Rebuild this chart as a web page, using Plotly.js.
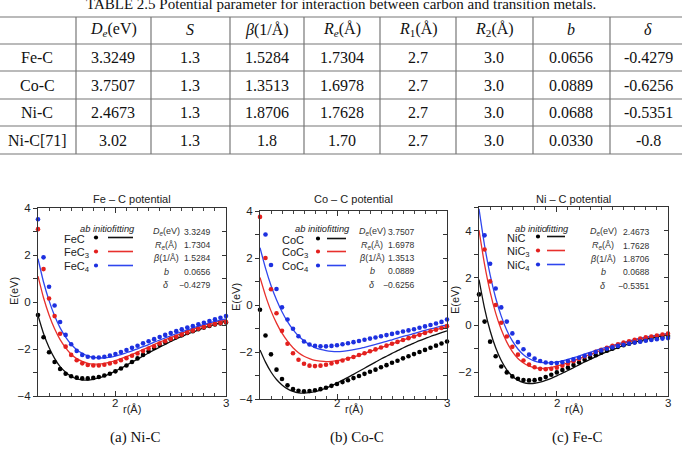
<!DOCTYPE html>
<html><head><meta charset="utf-8">
<script src="https://cdn.plot.ly/plotly-3.0.1.min.js"></script>
<style>html,body{margin:0;padding:0;background:#fff}#chart{width:682px;height:455px}</style>
</head><body><div id="chart"></div>
<script>
// ---------- table data ----------
const tableTitle = "TABLE 2.5 Potential parameter for interaction between carbon and transition metals.";
const tableHeader = ["", "<i>D</i><sub><i>e</i></sub>(eV)", "<i>S</i>", "<i>β</i>(1/Å)", "<i>R</i><sub><i>e</i></sub>(Å)", "<i>R</i><sub>1</sub>(Å)", "<i>R</i><sub>2</sub>(Å)", "<i>b</i>", "<i>δ</i>"];
const rowNames = ["Fe-C", "Co-C", "Ni-C", "Ni-C[71]"];
const De    = ["3.3249", "3.7507", "2.4673", "3.02"];
const S     = ["1.3", "1.3", "1.3", "1.3"];
const beta  = ["1.5284", "1.3513", "1.8706", "1.8"];
const Re    = ["1.7304", "1.6978", "1.7628", "1.70"];
const R1    = ["2.7", "2.7", "2.7", "2.7"];
const R2    = ["3.0", "3.0", "3.0", "3.0"];
const bPar  = ["0.0656", "0.0889", "0.0688", "0.0330"];
const delta = ["-0.4279", "-0.6256", "-0.5351", "-0.8"];

// ---------- curve data ----------
const r = [1.30,1.35,1.40,1.45,1.50,1.55,1.60,1.65,1.70,1.75,1.80,1.85,1.90,1.95,2.00,2.05,2.10,2.15,2.20,2.25,2.30,2.35,2.40,2.45,2.50,2.55,2.60,2.65,2.70,2.75,2.80,2.85,2.90,2.95,3.00];

const feC_ab  = [-0.55,-1.50,-2.14,-2.55,-2.85,-3.05,-3.16,-3.22,-3.25,-3.25,-3.23,-3.19,-3.13,-3.05,-2.95,-2.83,-2.70,-2.55,-2.40,-2.25,-2.10,-1.96,-1.83,-1.71,-1.60,-1.50,-1.41,-1.32,-1.24,-1.16,-1.09,-1.02,-0.96,-0.91,-0.87];
const feC3_ab = [3.10,1.40,0.15,-0.60,-1.35,-1.90,-2.25,-2.48,-2.61,-2.68,-2.70,-2.70,-2.67,-2.62,-2.56,-2.48,-2.39,-2.29,-2.19,-2.09,-1.98,-1.88,-1.77,-1.67,-1.57,-1.48,-1.39,-1.30,-1.22,-1.14,-1.07,-1.00,-0.94,-0.89,-0.85];
const feC4_ab = [3.52,1.90,0.65,-0.15,-0.85,-1.40,-1.80,-2.08,-2.25,-2.33,-2.36,-2.36,-2.33,-2.28,-2.21,-2.13,-2.04,-1.95,-1.86,-1.76,-1.67,-1.58,-1.49,-1.40,-1.32,-1.24,-1.16,-1.09,-1.02,-0.95,-0.88,-0.81,-0.74,-0.67,-0.60];
const feC_fit  = [-0.57,-1.34,-1.94,-2.40,-2.75,-2.99,-3.17,-3.27,-3.31,-3.32,-3.29,-3.23,-3.15,-3.05,-2.94,-2.82,-2.69,-2.56,-2.43,-2.30,-2.17,-2.04,-1.92,-1.80,-1.68,-1.57,-1.47,-1.37,-1.28,-1.19,-1.10,-1.02,-0.95,-0.88,-0.81];
const feC3_fit = [1.10,0.18,-0.55,-1.14,-1.60,-1.95,-2.22,-2.41,-2.53,-2.61,-2.64,-2.64,-2.61,-2.56,-2.50,-2.41,-2.32,-2.23,-2.13,-2.02,-1.92,-1.81,-1.71,-1.61,-1.51,-1.42,-1.33,-1.24,-1.16,-1.08,-1.00,-0.93,-0.87,-0.81,-0.75];
const feC4_fit = [1.84,0.85,0.06,-0.59,-1.10,-1.49,-1.80,-2.03,-2.18,-2.29,-2.36,-2.38,-2.38,-2.35,-2.30,-2.24,-2.16,-2.08,-1.99,-1.90,-1.81,-1.71,-1.62,-1.53,-1.44,-1.35,-1.27,-1.19,-1.11,-1.03,-0.96,-0.89,-0.83,-0.77,-0.72];

const coC_ab  = [-0.20,-1.30,-2.10,-2.75,-3.15,-3.42,-3.58,-3.65,-3.67,-3.66,-3.63,-3.58,-3.52,-3.44,-3.36,-3.28,-3.20,-3.11,-3.02,-2.93,-2.84,-2.75,-2.65,-2.56,-2.46,-2.37,-2.27,-2.18,-2.09,-2.00,-1.91,-1.82,-1.73,-1.64,-1.55];
const coC3_ab = [3.75,2.00,0.67,-0.35,-1.10,-1.65,-2.05,-2.33,-2.50,-2.58,-2.60,-2.58,-2.54,-2.49,-2.43,-2.36,-2.29,-2.21,-2.13,-2.05,-1.97,-1.89,-1.81,-1.73,-1.65,-1.57,-1.49,-1.41,-1.34,-1.27,-1.19,-1.12,-1.05,-0.98,-0.90];
const coC4_ab = [null,3.00,1.70,0.68,-0.10,-0.62,-1.01,-1.33,-1.55,-1.68,-1.74,-1.76,-1.76,-1.74,-1.71,-1.67,-1.63,-1.58,-1.53,-1.48,-1.43,-1.38,-1.33,-1.28,-1.23,-1.18,-1.13,-1.08,-1.03,-0.97,-0.91,-0.85,-0.79,-0.72,-0.62];
const coC_fit  = [-1.91,-2.43,-2.85,-3.17,-3.40,-3.57,-3.68,-3.74,-3.75,-3.73,-3.69,-3.62,-3.53,-3.44,-3.32,-3.20,-3.08,-2.95,-2.82,-2.69,-2.56,-2.43,-2.30,-2.18,-2.06,-1.94,-1.83,-1.72,-1.62,-1.52,-1.43,-1.34,-1.26,-1.18,-1.10];
const coC3_fit = [1.17,0.40,-0.25,-0.77,-1.20,-1.54,-1.82,-2.03,-2.18,-2.28,-2.36,-2.39,-2.41,-2.40,-2.37,-2.33,-2.27,-2.21,-2.14,-2.06,-1.98,-1.90,-1.81,-1.73,-1.65,-1.57,-1.49,-1.41,-1.33,-1.25,-1.18,-1.11,-1.05,-0.98,-0.92];
const coC4_fit = [2.44,1.57,0.83,0.22,-0.29,-0.71,-1.05,-1.32,-1.52,-1.69,-1.81,-1.89,-1.94,-1.97,-1.98,-1.97,-1.94,-1.90,-1.86,-1.80,-1.74,-1.68,-1.61,-1.55,-1.48,-1.41,-1.34,-1.28,-1.21,-1.14,-1.08,-1.02,-0.96,-0.90,-0.85];

const niC_ab  = [1.30,0.15,-0.70,-1.32,-1.75,-2.00,-2.17,-2.27,-2.32,-2.34,-2.33,-2.28,-2.20,-2.10,-2.00,-1.90,-1.80,-1.69,-1.58,-1.47,-1.37,-1.27,-1.17,-1.08,-1.00,-0.92,-0.85,-0.79,-0.73,-0.68,-0.63,-0.58,-0.54,-0.50,-0.46];
const niC3_ab = [null,3.20,1.85,0.85,0.10,-0.48,-0.92,-1.25,-1.50,-1.67,-1.78,-1.85,-1.87,-1.85,-1.80,-1.72,-1.63,-1.53,-1.43,-1.33,-1.23,-1.13,-1.04,-0.96,-0.88,-0.81,-0.74,-0.68,-0.62,-0.57,-0.52,-0.48,-0.44,-0.40,-0.36];
const niC4_ab = [null,3.80,2.60,1.55,0.75,0.15,-0.35,-0.72,-1.02,-1.25,-1.41,-1.52,-1.58,-1.60,-1.60,-1.57,-1.52,-1.45,-1.38,-1.30,-1.22,-1.14,-1.07,-1.00,-0.94,-0.88,-0.83,-0.78,-0.74,-0.70,-0.66,-0.63,-0.60,-0.57,-0.55];
const niC_fit  = [1.93,0.71,-0.24,-0.96,-1.50,-1.89,-2.16,-2.33,-2.43,-2.47,-2.46,-2.41,-2.34,-2.25,-2.15,-2.03,-1.92,-1.80,-1.68,-1.56,-1.45,-1.34,-1.23,-1.13,-1.04,-0.95,-0.87,-0.80,-0.73,-0.66,-0.60,-0.55,-0.50,-0.45,-0.41];
const niC3_fit = [4.02,2.57,1.41,0.51,-0.19,-0.72,-1.12,-1.41,-1.60,-1.73,-1.80,-1.83,-1.82,-1.79,-1.73,-1.67,-1.59,-1.51,-1.42,-1.33,-1.24,-1.15,-1.07,-0.99,-0.91,-0.84,-0.77,-0.71,-0.65,-0.59,-0.54,-0.49,-0.45,-0.41,-0.37];
const niC4_fit = [4.92,3.37,2.13,1.15,0.38,-0.22,-0.67,-1.01,-1.25,-1.41,-1.52,-1.58,-1.60,-1.59,-1.56,-1.51,-1.45,-1.38,-1.31,-1.23,-1.15,-1.07,-1.00,-0.93,-0.86,-0.79,-0.73,-0.67,-0.61,-0.56,-0.51,-0.47,-0.43,-0.39,-0.35];

// ---------- layout helpers ----------
const W = 682, H = 455;
const X = p => p / W, Y = p => 1 - p / H;
const SANS = "Liberation Sans, Arial, sans-serif";
const SERIF = "Liberation Serif, Times New Roman, serif";
const COLORS = ["#000000", "#e3201e", "#1d30e0"];
const LINECOLORS = ["#111111", "#e8302c", "#2f46ee"];

const panels = [
  {title: "Fe – C potential", caption: "(a) Ni-C", names: ["FeC","FeC<sub>3</sub>","FeC<sub>4</sub>"],
   ab: [feC_ab, feC3_ab, feC4_ab], fit: [feC_fit, feC3_fit, feC4_fit], prow: 0, yr: [-4, 4],
   box: {l: 38, r: 226, t: 208, b: 396}, ylab: 291,
   leg: {hab: 96, hfit: 123, lab: 62, dot: 96, l0: 108, l1: 133, rows: [239, 253, 267], hy: 229},
   par: {lc: 166, vr: 213, rows: [232, 245, 258, 272, 285]}},
  {title: "Co – C potential", caption: "(b) Co-C", names: ["CoC","CoC<sub>3</sub>","CoC<sub>4</sub>"],
   ab: [coC_ab, coC3_ab, coC4_ab], fit: [coC_fit, coC3_fit, coC4_fit], prow: 1, yr: [-4, 4],
   box: {l: 260, r: 447, t: 211, b: 399}, ylab: 297,
   leg: {hab: 311, hfit: 338, lab: 280, dot: 318, l0: 327, l1: 346, rows: [240, 253, 267], hy: 229},
   par: {lc: 372, vr: 417, rows: [232, 245, 258, 271, 285]}},
  {title: "Ni – C potential", caption: "(c) Fe-C", names: ["NiC","NiC<sub>3</sub>","NiC<sub>4</sub>"],
   ab: [niC_ab, niC3_ab, niC4_ab], fit: [niC_fit, niC3_fit, niC4_fit], prow: 2, yr: [-3, 5],
   box: {l: 479, r: 668, t: 207, b: 396}, ylab: 300,
   leg: {hab: 531, hfit: 557, lab: 505, dot: 538, l0: 547, l1: 565, rows: [238, 252, 266], hy: 229},
   par: {lc: 603, vr: 652, rows: [232, 246, 259, 272, 286]}}
];

const parLabels = ["<i>D</i><sub><i>e</i></sub>(eV)", "<i>R</i><sub><i>e</i></sub>(Å)", "<i>β</i>(1/Å)", "<i>b</i>", "<i>δ</i>"];
const parCols = [De, Re, beta, bPar, delta];

const traces = [], annotations = [], shapes = [];
const layout = {width: W, height: H, margin: {l: 0, r: 0, t: 0, b: 0}, paper_bgcolor: "#fff", plot_bgcolor: "#fff",
  showlegend: false, font: {family: SANS, color: "#222"}};

function ann(text, x, y, opt) {
  annotations.push(Object.assign({text: text, x: X(x), y: Y(y), xref: "paper", yref: "paper", showarrow: false,
    xanchor: "center", yanchor: "middle", font: {family: SANS, size: 11, color: "#222"}}, opt || {}));
}

panels.forEach((p, i) => {
  const s = i + 1, so = i + 4;
  const xa = "x" + s, ya = "y" + s;
  const tickfont = {family: SANS, size: 11.5, color: "#222"};
  layout["xaxis" + s] = {domain: [X(p.box.l), X(p.box.r)], range: [1.3, 3.0], anchor: ya,
    tick0: 2, dtick: 1, ticks: "inside", ticklen: 5, tickcolor: "#333", showline: true, linecolor: "#333", linewidth: 1,
    mirror: "ticks", showgrid: false, zeroline: false, showticklabels: false,
    minor: {dtick: 0.1, ticks: "inside", ticklen: 3, tickcolor: "#444", showgrid: false}, fixedrange: true};
  layout["yaxis" + s] = {domain: [Y(p.box.b), Y(p.box.t)], range: p.yr, anchor: xa,
    tick0: 0, dtick: 2, ticks: "outside", ticklen: 4, tickcolor: "#333", showline: true, linecolor: "#333", linewidth: 1,
    mirror: true, showgrid: false, zeroline: false, tickfont: tickfont,
    minor: {dtick: 1, ticks: "outside", ticklen: 4, tickcolor: "#333", showgrid: false}, fixedrange: true};
  layout["yaxis" + so] = {overlaying: ya, side: "right", anchor: xa, range: p.yr, tick0: 0, dtick: 1,
    ticks: "inside", ticklen: 4, tickcolor: "#333", showline: false, showgrid: false, zeroline: false,
    showticklabels: false, fixedrange: true};
  traces.push({type: "scatter", x: [], y: [], xaxis: xa, yaxis: "y" + so, hoverinfo: "skip"});

  for (let k = 0; k < 3; k++) {
    traces.push({type: "scatter", mode: "lines", x: r, y: p.fit[k], xaxis: xa, yaxis: ya,
      line: {color: LINECOLORS[k], width: 1.3, shape: "spline", smoothing: 0.6}, hoverinfo: "skip"});
  }
  for (let k = 0; k < 3; k++) {
    traces.push({type: "scatter", mode: "markers", x: r, y: p.ab[k], xaxis: xa, yaxis: ya, cliponaxis: false,
      marker: {color: COLORS[k], size: 4.6, line: {width: 0}}, hoverinfo: "skip"});
  }

  const xpx = v => p.box.l + (v - 1.3) / 1.7 * (p.box.r - p.box.l);
  ann("2", xpx(2), 403, {font: {family: SANS, size: 11.5, color: "#222"}});
  ann("3", xpx(3), 403, {font: {family: SANS, size: 11.5, color: "#222"}});
  ann("r(Å)", xpx(2) + 17, 409, {font: {family: SANS, size: 11, color: "#222"}});
  ann("E(eV)", p.box.l - 24, p.ylab, {textangle: -90, font: {family: SANS, size: 11, color: "#222"}});
  ann(p.title, (p.box.l + p.box.r) / 2, 199, {font: {family: SANS, size: 11, color: "#222"}});
  ann(p.caption, (p.box.l + p.box.r) / 2 + 3, 437, {font: {family: SERIF, size: 15, color: "#111"}});

  // legend
  const L = p.leg;
  ann("<i>ab initio</i>", L.hab, L.hy, {font: {family: SANS, size: 9.3, color: "#222"}});
  ann("<i>fitting</i>", L.hfit, L.hy, {font: {family: SANS, size: 9.3, color: "#222"}});
  for (let k = 0; k < 3; k++) {
    ann(p.names[k], L.lab, L.rows[k], {xanchor: "left", font: {family: SANS, size: 11, color: "#222"}});
    shapes.push({type: "circle", xref: "paper", yref: "paper", x0: X(L.dot - 2.1), x1: X(L.dot + 2.1),
      y0: Y(L.rows[k] - 1.5 + 2.1), y1: Y(L.rows[k] - 1.5 - 2.1), fillcolor: COLORS[k], line: {width: 0}});
    shapes.push({type: "line", xref: "paper", yref: "paper", x0: X(L.l0), x1: X(L.l1),
      y0: Y(L.rows[k] - 1.5), y1: Y(L.rows[k] - 1.5), line: {color: LINECOLORS[k], width: 1.6}});
  }
  // parameters
  const P = p.par;
  for (let k = 0; k < 5; k++) {
    ann(parLabels[k], P.lc, P.rows[k], {font: {family: SANS, size: 9, color: "#333"}});
    ann(parCols[k][p.prow].replace("-", "\u2212"), P.vr, P.rows[k], {xanchor: "right", font: {family: SANS, size: 8.6, color: "#333"}});
  }
});

// ---------- table ----------
const colCenters = [37, 113, 190, 267, 342, 418, 494, 571, 648];
const vLines = [76, 151, 230, 304, 380, 456, 533, 610];
const hLines = [17, 44, 71, 99, 126, 154];
const rowCenters = [57, 85, 112, 140];
const tcols = [rowNames, De, S, beta, Re, R1, R2, bPar, delta];
ann(tableTitle, 341, 4, {font: {family: SERIF, size: 15, color: "#111"}});
hLines.forEach(y => shapes.push({type: "line", xref: "paper", yref: "paper", x0: 0, x1: 1, y0: Y(y), y1: Y(y), line: {color: "#777", width: 1.2}}));
vLines.forEach(x => shapes.push({type: "line", xref: "paper", yref: "paper", x0: X(x), x1: X(x), y0: Y(hLines[0]), y1: Y(hLines[hLines.length - 1]), line: {color: "#777", width: 1.2}}));
tableHeader.forEach((h, c) => { if (h) ann(h, colCenters[c], 30, {font: {family: SERIF, size: 16, color: "#111"}}); });
tcols.forEach((col, c) => col.forEach((v, rI) => ann(v, colCenters[c], rowCenters[rI], {font: {family: SERIF, size: 16, color: "#111"}})));

layout.annotations = annotations;
layout.shapes = shapes;
Plotly.newPlot("chart", traces, layout, {displayModeBar: false, staticPlot: true});
</script>
</body></html>
